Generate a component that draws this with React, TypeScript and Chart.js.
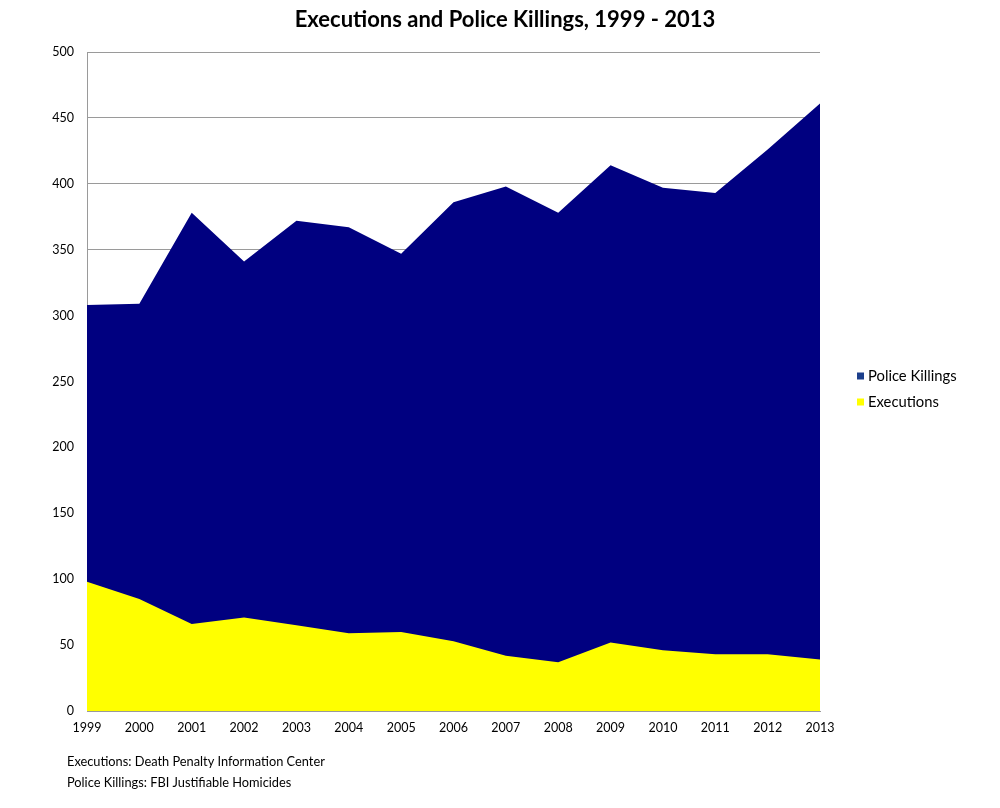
import React, { useEffect, useRef } from "react";
import { Chart, registerables } from "chart.js";

Chart.register(...registerables);

const years = ["1999", "2000", "2001", "2002", "2003", "2004", "2005", "2006", "2007", "2008", "2009", "2010", "2011", "2012", "2013"];
const policeKillings = [308, 309, 378, 341, 372, 367, 347, 386, 398, 378, 414, 397, 393, 426, 461];
const executions = [98, 85, 66, 71, 65, 59, 60, 53, 42, 37, 52, 46, 43, 43, 39];
const titleText = "Executions and Police Killings, 1999 - 2013";
const legendItems = [
  { label: "Police Killings", color: "#1c3f8c" },
  { label: "Executions", color: "#ffff00" },
];
const footnotes = [
  "Executions: Death Penalty Information Center",
  "Police Killings: FBI Justifiable Homicides",
];

const FONT = "Lato, 'Open Sans', sans-serif";

export default function App() {
  const ref = useRef<HTMLCanvasElement | null>(null);

  useEffect(() => {
    document.body.style.margin = "0";
    const canvas = ref.current;
    if (!canvas) return;

    const extras = {
      id: "extras",
      afterDraw(chart: any) {
        const ctx = chart.ctx;
        ctx.save();
        // title
        ctx.fillStyle = "#000";
        ctx.font = `bold 22px ${FONT}`;
        ctx.textAlign = "center";
        ctx.textBaseline = "middle";
        ctx.fillText(titleText, 505, 20);
        // legend
        ctx.font = `14.8px ${FONT}`;
        ctx.textAlign = "left";
        legendItems.forEach((it, i) => {
          const y = 376 + i * 26;
          ctx.fillStyle = it.color;
          ctx.fillRect(857, y - 3.5, 7, 7);
          ctx.fillStyle = "#000";
          ctx.fillText(it.label, 868, y);
        });
        // footnotes
        ctx.font = `12.8px ${FONT}`;
        footnotes.forEach((t, i) => {
          ctx.fillText(t, 67, 762 + i * 21);
        });
        ctx.restore();
      },
    };

    const chart = new Chart(canvas, {
      type: "line",
      data: {
        labels: years,
        datasets: [
          {
            label: "Executions",
            data: executions,
            fill: "origin",
            backgroundColor: "#ffff00",
            borderColor: "#ffff00",
            borderWidth: 0,
            pointRadius: 0,
            tension: 0,
          },
          {
            label: "Police Killings",
            data: policeKillings,
            fill: "origin",
            backgroundColor: "#000080",
            borderColor: "#000080",
            borderWidth: 0,
            pointRadius: 0,
            tension: 0,
          },
        ],
      },
      options: {
        responsive: false,
        animation: false,
        layout: { padding: { top: 52, left: 0, right: 180, bottom: 0 } },
        plugins: {
          legend: { display: false },
          title: { display: false },
          tooltip: { enabled: false },
        },
        scales: {
          x: {
            offset: false,
            grid: { display: false, drawTicks: false },
            border: { display: true, color: "#9a9a9a", width: 1 },
            ticks: {
              color: "#000",
              font: { family: FONT, size: 12.5 },
              padding: 9,
              maxRotation: 0,
              autoSkip: false,
            },
            afterFit(scale: any) {
              scale.height = 97;
            },
          },
          y: {
            min: 0,
            max: 500,
            grid: { color: "#9a9a9a", drawTicks: false, lineWidth: 1 },
            border: { display: true, color: "#9a9a9a", width: 1 },
            ticks: {
              stepSize: 50,
              color: "#000",
              font: { family: FONT, size: 12.5 },
              padding: 13,
            },
            afterFit(scale: any) {
              scale.width = 87;
            },
          },
        },
      },
      plugins: [extras],
    } as any);

    return () => chart.destroy();
  }, []);

  return (
    <div style={{ width: 1000, height: 808 }}>
      <canvas ref={ref} width={1000} height={808} style={{ display: "block" }} />
    </div>
  );
}
